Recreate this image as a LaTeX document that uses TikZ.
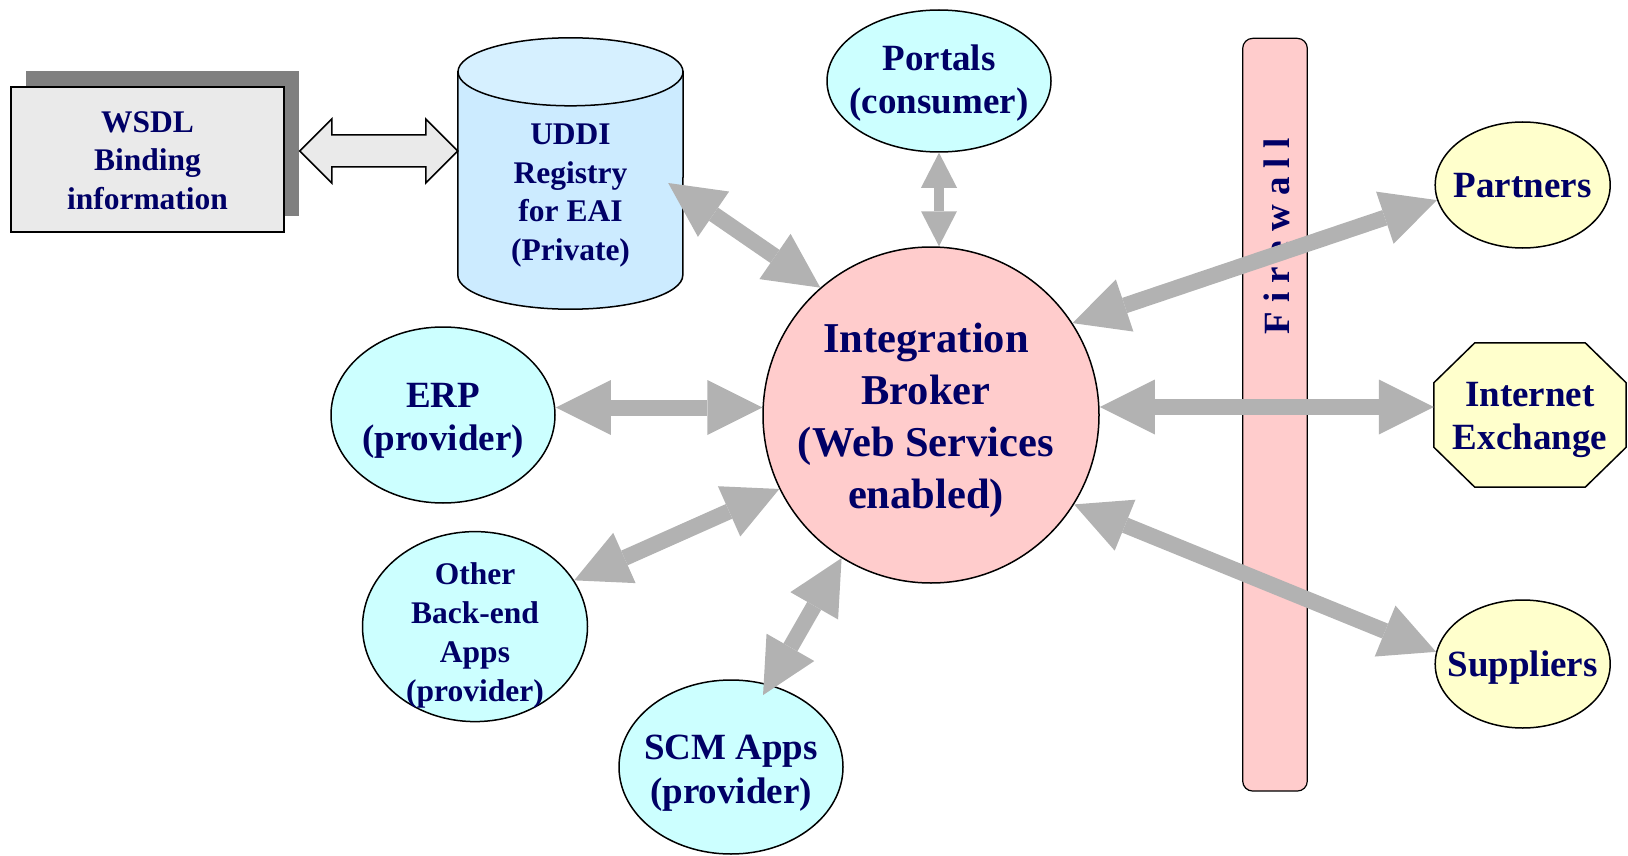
\documentclass[tikz,border=0pt]{standalone}
\usepackage{fontspec}
\setmainfont{Liberation Serif}
\usetikzlibrary{arrows.meta,calc,shadows,shapes.geometric}

\definecolor{navy}{HTML}{000066}
\definecolor{cyanfill}{HTML}{CCFFFF}
\definecolor{pinkfill}{HTML}{FFCCCC}
\definecolor{yellowfill}{HTML}{FFFFCC}
\definecolor{arrowgray}{HTML}{B2B2B2}
\definecolor{boxfill}{HTML}{EAEAEA}
\definecolor{shadowgray}{HTML}{808080}
\definecolor{dbbody}{HTML}{CCEBFF}
\definecolor{dbtop}{HTML}{D6F0FF}

\begin{document}
\begin{tikzpicture}[x=1pt,y=-1pt,
  outline/.style={draw=black, line width=1.5pt},
  blob/.style={ellipse, outline, inner sep=0pt},
  ghost/.style={rectangle, inner sep=0pt, draw=none},
  txt/.style={text=navy, align=center, inner sep=0pt, font=\bfseries},
  txtS/.style={txt, font=\fontsize{31.5}{38.4}\selectfont\bfseries},
  txtM/.style={txt, font=\fontsize{37}{43.6}\selectfont\bfseries},
  txtL/.style={txt, font=\fontsize{42.5}{52}\selectfont\bfseries},
  wall/.style={rectangle, draw=black, line width=1.2pt, fill=pinkfill,
    rounded corners=10pt, minimum width=64.6pt, minimum height=752.7pt},
  garrow/.style={draw=arrowgray, line width=16pt, arrows={Triangle[length=55pt,width=55pt,line width=0pt]-Triangle[length=55pt,width=55pt,line width=0pt]}},
  garrowthin/.style={draw=arrowgray, line width=9.5pt, arrows={Triangle[length=35pt,width=36pt,line width=0pt]-Triangle[length=35pt,width=36pt,line width=0pt]}}
]
\useasboundingbox (0,0) rectangle (1628,856);

% firewall strip with its spaced, vertical label
\node[wall] (firewall) at (1275,414.7) {};
\node[txt, font=\fontsize{37}{44}\selectfont\bfseries, rotate=90] (walltxt) at (1276.7,236.5) {F i r e w a l l};

% WSDL box with its offset shadow
\node[rectangle, outline, fill=boxfill, minimum width=273pt, minimum height=145pt,
  drop shadow={shadow xshift=15pt, shadow yshift=16pt, fill=shadowgray, opacity=1, draw=none}]
  (wsdl) at (147.5,159.5) {};
\node[txtS] (wsdltxt) at ($(wsdl)+(0,1)$) {WSDL\\Binding\\information};

% UDDI registry cylinder
\node[ghost, minimum width=225pt, minimum height=271pt] (uddi) at (570.5,173.5) {};
\path[outline, fill=dbbody] ([yshift=-34pt]uddi.north west) -- ([yshift=34pt]uddi.south west)
  arc[start angle=180, end angle=360, x radius=112.5pt, y radius=34pt]
  -- ([yshift=-34pt]uddi.north east) -- cycle;
\path[outline, fill=dbtop] ([yshift=-34pt]uddi.north) ellipse [x radius=112.5pt, y radius=34pt];
\node[txtS] (udditxt) at ($(uddi)+(0,22)$) {UDDI\\Registry\\for EAI\\(Private)};

% hollow double arrow between WSDL and UDDI
\coordinate (hl) at ($(wsdl.east)+(15,-8.5)$);
\coordinate (hr) at (uddi.west |- hl);
\draw[outline, fill=boxfill] (hl) -- ($(hl)+(32,-32)$) -- ($(hl)+(32,-16)$)
  -- ($(hr)+(-32,-16)$) -- ($(hr)+(-32,-32)$) -- (hr) -- ($(hr)+(-32,32)$)
  -- ($(hr)+(-32,16)$) -- ($(hl)+(32,16)$) -- ($(hl)+(32,32)$) -- cycle;

% consumers and providers
\node[blob, fill=cyanfill, minimum width=224pt, minimum height=142pt] (portals) at (939,81) {};
\node[txtM] (portalstxt) at ($(portals)+(0,2)$) {Portals\\(consumer)};

\node[circle, outline, fill=pinkfill, minimum size=336pt, inner sep=0pt] (broker) at (931,415) {};
\node[txtL] (brokertxt) at ($(broker)+(-5,5)$) {Integration\\Broker\\(Web Services\\enabled)};

\node[blob, fill=cyanfill, minimum width=224pt, minimum height=176pt] (erp) at (443,415) {};
\node[txtM] (erptxt) at ($(erp)+(0,6)$) {ERP\\(provider)};

\node[blob, fill=cyanfill, minimum width=225pt, minimum height=190pt] (other) at (475,626.6) {};
\node[txtS, font=\fontsize{31.5}{39}\selectfont\bfseries] (othertxt) at ($(other)+(0,9)$) {Other\\Back-end\\Apps\\(provider)};

\node[blob, fill=cyanfill, minimum width=224pt, minimum height=174pt] (scm) at (731,767) {};
\node[txtM] (scmtxt) at ($(scm)+(0,6)$) {SCM Apps\\(provider)};

% external parties
\node[blob, fill=yellowfill, minimum width=175pt, minimum height=126pt] (partners) at (1522.7,185) {};
\node[txtM] (partnerstxt) at ($(partners)+(0,1)$) {Partners};

\node[ghost, minimum width=192pt, minimum height=144pt] (ie) at (1530,415) {};
\draw[outline, fill=yellowfill] ([xshift=41pt]ie.north west) -- ([xshift=-41pt]ie.north east)
  -- ([yshift=-40pt]ie.north east) -- ([yshift=40pt]ie.south east)
  -- ([xshift=-41pt]ie.south east) -- ([xshift=41pt]ie.south west)
  -- ([yshift=40pt]ie.south west) -- ([yshift=-40pt]ie.north west) -- cycle;
\node[txtM] (ietxt) at ($(ie)+(0,5)$) {Internet\\Exchange};

\node[blob, fill=yellowfill, minimum width=175pt, minimum height=128pt] (suppliers) at (1522.7,664) {};
\node[txtM] (supplierstxt) at ($(suppliers)+(0,4)$) {Suppliers};

% block arrows to and from the broker
\draw[garrow] ($(uddi.east)+(-15,9.5)$) -- (broker.131);
\draw[garrowthin] (portals.south) -- (portals.south |- broker.north);
\draw[garrow] ([yshift=7.5pt]erp.east) -- ([yshift=7.5pt]broker.west);
\draw[garrow] (other.25) -- (broker.206);
\draw[garrow] ($(scm.66)!12pt!(scm.center)$) -- (broker.238);
\draw[garrow] (broker.33) -- (partners.190);
\draw[garrow] ([yshift=8pt]broker.east) -- ([yshift=8pt]ie.west);
\draw[garrow] (broker.328) -- (suppliers.172);
\end{tikzpicture}
\end{document}
